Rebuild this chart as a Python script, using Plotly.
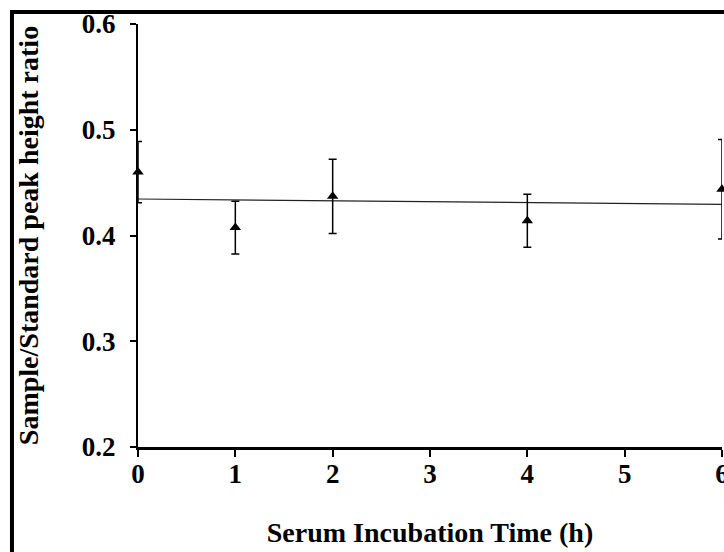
import plotly.graph_objects as go

# Data
time_h = [0, 1, 2, 4, 6]
ratio = [0.460, 0.4075, 0.437, 0.414, 0.4437]
ratio_err = [0.029, 0.025, 0.035, 0.025, 0.047]
fit_x = [0, 6]
fit_y = [0.4345, 0.4295]
x_ticks = [0, 1, 2, 3, 4, 5, 6]
y_ticks = [0.2, 0.3, 0.4, 0.5, 0.6]

FONT = "Liberation Serif, Times New Roman, serif"

fig = go.Figure()
fig.add_trace(go.Scatter(
    x=fit_x, y=fit_y, mode="lines",
    line=dict(color="#222222", width=1.2), showlegend=False, hoverinfo="skip"))
fig.add_trace(go.Scatter(
    x=time_h, y=ratio, mode="markers",
    marker=dict(symbol="triangle-up", size=10, color="black"),
    error_y=dict(type="data", array=ratio_err, visible=True,
                 color="black", thickness=1.5, width=4),
    showlegend=False, cliponaxis=False))

# outer black frame (partly cut off at the right and bottom)
fig.add_shape(type="rect", xref="paper", yref="paper",
              x0=-0.2158, x1=1.5, y0=-0.6, y1=1.0284,
              line=dict(color="black", width=4), layer="above")

fig.update_layout(
    width=724, height=552,
    margin=dict(l=138, r=2, t=24, b=105, autoexpand=False),
    paper_bgcolor="white", plot_bgcolor="white",
    font=dict(family=FONT, size=27, color="black", weight="bold"),
    xaxis=dict(
        range=[0, 6], tickvals=x_ticks, ticktext=[str(v) for v in x_ticks],
        showgrid=False, zeroline=False, showline=True, linecolor="black", linewidth=3,
        ticks="outside", ticklen=7, tickwidth=2, tickcolor="black",
        tickfont=dict(family=FONT, size=27, weight="bold"),
        ticklabelstandoff=-6, ticklabeloverflow="allow",
        title=dict(text="Serum Incubation Time (h)", standoff=34,
                   font=dict(family=FONT, size=28, weight="bold")),
        automargin=False),
    yaxis=dict(
        range=[0.2, 0.6], tickvals=y_ticks, ticktext=[f"{v:.1f}" for v in y_ticks],
        showgrid=False, zeroline=False, showline=True, linecolor="black", linewidth=2,
        ticks="outside", ticklen=6, tickwidth=2, tickcolor="black",
        tickfont=dict(family=FONT, size=27, weight="bold"),
        ticklabelstandoff=9,
        title=dict(text="Sample/Standard peak height ratio", standoff=35,
                   font=dict(family=FONT, size=28, weight="bold")),
        automargin=False),
)

fig.write_html(
    "out.html",
    config={"displayModeBar": False},
    post_script="document.body.style.margin='0';document.body.style.overflow='hidden';")
